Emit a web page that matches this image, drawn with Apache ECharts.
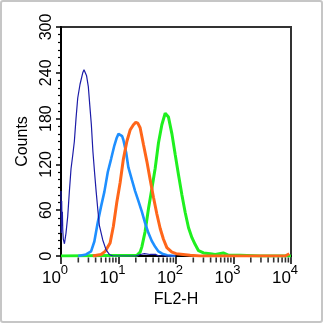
<!DOCTYPE html>
<html>
<head>
<meta charset="utf-8">
<script src="https://cdn.jsdelivr.net/npm/echarts@6/dist/echarts.min.js"></script>
<style>
  html, body { margin: 0; padding: 0; background: #fff; }
  #frame { position: absolute; left: 0; top: 0; width: 323px; height: 323px; box-sizing: border-box; border: 2px solid #c6c6c6; border-radius: 3px; }
  #chart { position: absolute; left: 0; top: 0; width: 326px; height: 326px; }
</style>
</head>
<body>
<div id="frame"></div>
<div id="chart"></div>
<script>
// x values are log10(FL2-H)
const xTickExponents = ['0', '1', '2', '3', '4'];
const minorMultipliers = [2, 3, 4, 5, 6, 7, 8, 9];
const yTickValues = [0, 60, 120, 180, 240, 300];

const darkBlueLog = [0, 0.006, 0.012, 0.018, 0.024, 0.03, 0.04, 0.06, 0.087, 0.117, 0.145, 0.174, 0.204, 0.232, 0.261, 0.291, 0.331, 0.378, 0.40, 0.423, 0.445, 0.475, 0.50, 0.528, 0.555, 0.583, 0.612, 0.640, 0.667, 0.726, 0.784, 0.841, 0.9, 1.3, 1.38, 1.45, 1.55, 1.65, 1.7, 2.0];
const darkBlueCounts = [85, 30, 72, 40, 58, 35, 22, 16, 30, 52, 84, 114, 132, 150, 180, 207, 225, 240, 244, 243, 236, 222, 198, 172, 137, 110, 84, 61, 40, 21, 8, 2, 0, 0, 2, 3, 2, 2, 0, 0];

const lightBlueLog = [0.30, 0.436, 0.523, 0.580, 0.639, 0.697, 0.754, 0.814, 0.871, 0.929, 0.970, 1.00, 1.028, 1.063, 1.085, 1.132, 1.172, 1.232, 1.289, 1.347, 1.406, 1.463, 1.521, 1.577, 1.638, 1.695, 1.760, 1.847, 1.99];
const lightBlueCounts = [0, 2, 6, 19, 44, 65, 84, 110, 127, 145, 155, 160, 162, 157, 152, 136, 116, 100, 85, 72, 58, 43, 30, 20, 12, 6, 3, 1, 0];

const orangeLog = [0.552, 0.622, 0.697, 0.767, 0.854, 0.911, 0.970, 1.028, 1.085, 1.145, 1.202, 1.260, 1.300, 1.335, 1.376, 1.434, 1.493, 1.551, 1.608, 1.667, 1.725, 1.782, 1.841, 1.929, 2.003, 2.125, 2.247, 2.42, 3.9, 3.97];
const orangeCounts = [0, 1, 2, 6, 17, 39, 70, 96, 127, 150, 165, 172, 175, 174, 168, 146, 124, 100, 77, 55, 36, 22, 11, 5, 3, 2, 1, 0, 0, 3];

const greenLog = [0, 1.319, 1.376, 1.406, 1.463, 1.521, 1.580, 1.638, 1.695, 1.754, 1.812, 1.869, 1.929, 1.986, 2.044, 2.103, 2.160, 2.218, 2.277, 2.334, 2.392, 2.479, 2.596, 2.683, 2.822, 2.909, 3.118, 3.467, 4.0];
const greenCounts = [0, 1, 5, 12, 32, 62, 88, 115, 148, 172, 187, 182, 160, 133, 106, 80, 57, 37, 24, 15, 7, 4, 3, 2, 4, 1, 1, 0, 0];

function pairs(xs, ys) { return xs.map((x, i) => [x, ys[i]]); }

const minorTickValues = [];
for (let d = 0; d < 4; d++) {
  minorMultipliers.forEach(m => minorTickValues.push(d + Math.log10(m)));
}

const FONT = 'Liberation Sans, Arial, Helvetica, sans-serif';
const chart = echarts.init(document.getElementById('chart'), null, { renderer: 'canvas' });

function lineSeries(data, color, width, z) {
  return {
    type: 'line', data: data, symbol: 'none', smooth: false, z: z,
    lineStyle: { color: color, width: width }
  };
}

chart.setOption({
  animation: false,
  grid: { left: 61, right: 35, top: 27, bottom: 70, show: true, borderColor: '#333', borderWidth: 2, backgroundColor: 'transparent' },
  xAxis: {
    type: 'value', min: 0, max: 4, interval: 1,
    name: 'FL2-H', nameLocation: 'middle', nameGap: 33,
    nameTextStyle: { fontFamily: FONT, fontSize: 16, color: '#000' },
    axisLine: { show: true, onZero: false, lineStyle: { color: '#000', width: 2 } },
    axisTick: { show: true, inside: false, length: 8, lineStyle: { color: '#000', width: 1.5 } },
    splitLine: { show: false },
    axisLabel: {
      margin: 8, padding: [0, 12, 0, 0],
      formatter: function (v) { return '{b|10}{s|' + xTickExponents[Math.round(v)] + '}'; },
      rich: {
        b: { fontFamily: FONT, fontSize: 17, color: '#000', lineHeight: 23, verticalAlign: 'bottom' },
        s: { fontFamily: FONT, fontSize: 13, color: '#000', verticalAlign: 'top' }
      }
    }
  },
  yAxis: {
    type: 'value', min: yTickValues[0], max: yTickValues[yTickValues.length - 1], interval: 60,
    name: 'Counts', nameLocation: 'middle', nameGap: 30,
    nameTextStyle: { fontFamily: FONT, fontSize: 16, color: '#000' },
    axisLine: { show: true, onZero: false, lineStyle: { color: '#000', width: 2 } },
    axisTick: { show: true, inside: false, length: 5, lineStyle: { color: '#000', width: 1.5 } },
    minorTick: { show: true, splitNumber: 6, length: 3, lineStyle: { color: '#000', width: 1.2 } },
    splitLine: { show: false },
    axisLabel: { rotate: 90, margin: 6, fontFamily: FONT, fontSize: 16, color: '#000' }
  },
  series: [
    lineSeries(pairs(greenLog, greenCounts), '#1ff01f', 3, 2),
    lineSeries(pairs(lightBlueLog, lightBlueCounts), '#1e8fff', 2.6, 3),
    lineSeries(pairs(orangeLog, orangeCounts), '#ff661a', 3, 4),
    lineSeries(pairs(darkBlueLog, darkBlueCounts), '#1c1ca8', 1.2, 5),
    {
      // log-scale minor ticks on the x axis, placed through the axis scale
      type: 'scatter', silent: true, clip: false, z: 10,
      data: minorTickValues.map(v => [v, 0]),
      symbol: 'rect', symbolSize: [1.6, 5], symbolOffset: [0, 4],
      itemStyle: { color: '#000' }
    }
  ]
});
</script>
</body>
</html>
